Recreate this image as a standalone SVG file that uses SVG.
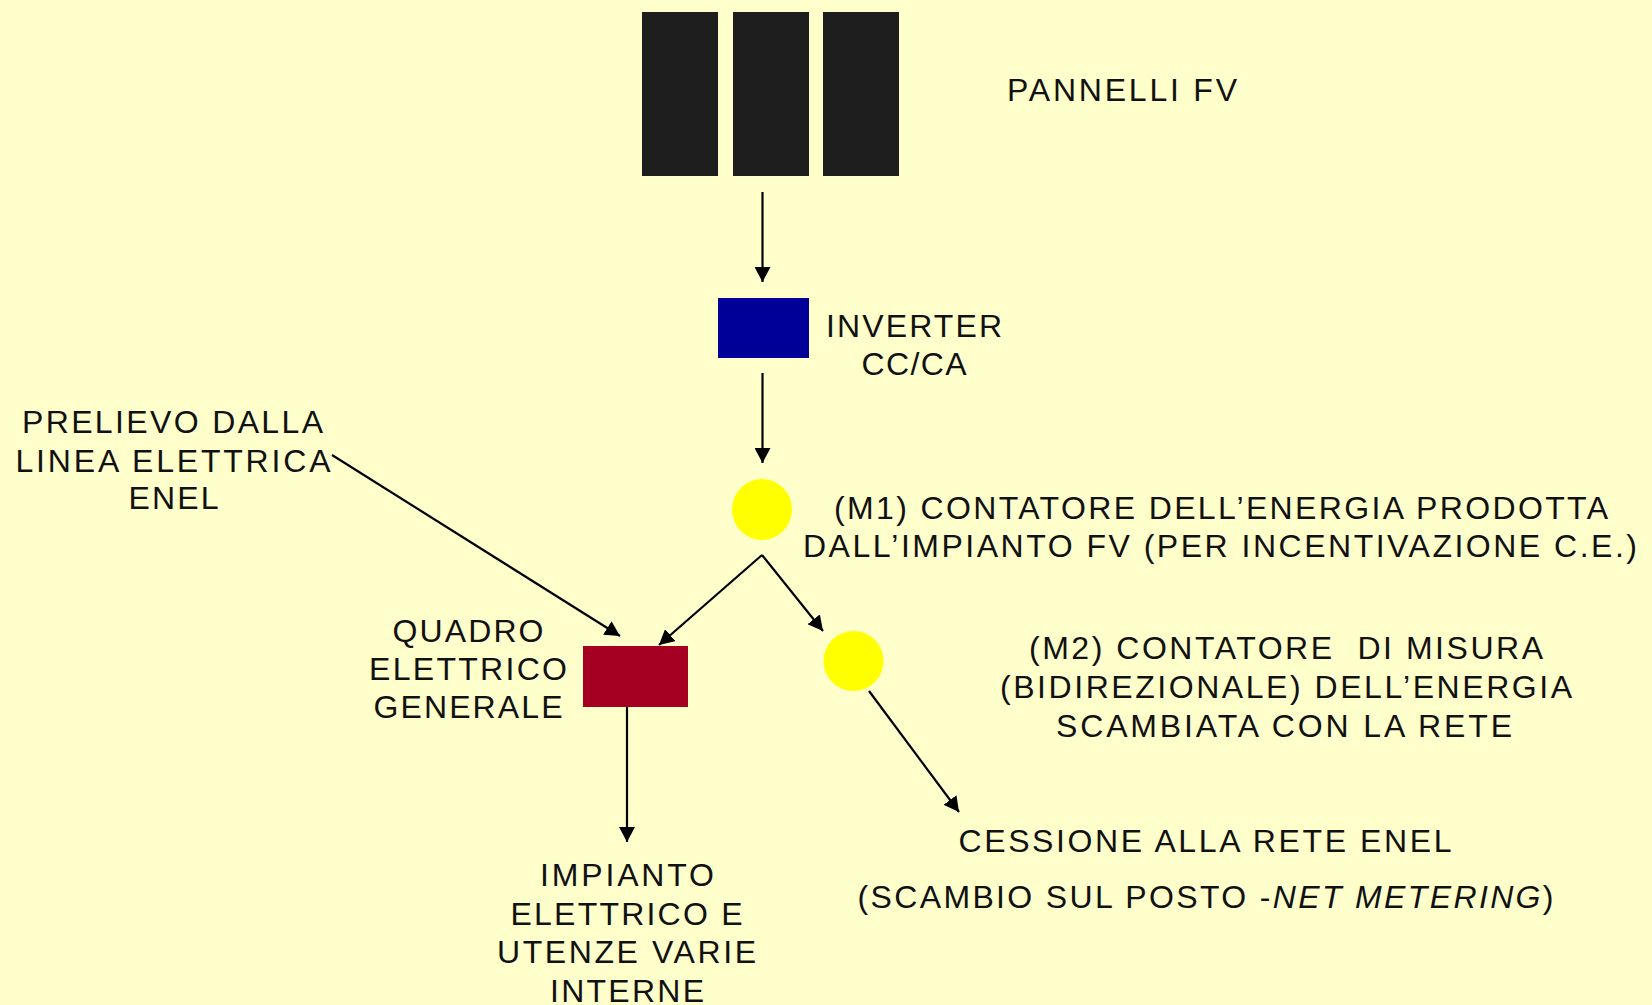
<svg xmlns="http://www.w3.org/2000/svg" width="1652" height="1005" viewBox="0 0 1652 1005">
<style>
.t{font-family:"Liberation Sans",Arial,sans-serif;font-size:32px;fill:#111;text-anchor:middle}
.c{stroke:#000;stroke-width:2.2;fill:none;marker-end:url(#ah)}
.panel{fill:#1e1e1e}
.meter{fill:#ffff00}
</style>
<defs>
<marker id="ah" viewBox="0 0 15 16" refX="15" refY="8" markerWidth="15" markerHeight="16" orient="auto" markerUnits="userSpaceOnUse">
<path d="M0,0 L15,8 L0,16 Z" fill="#000"/>
</marker>
</defs>
<rect width="1652" height="1005" fill="#ffffcc"/>

<g id="pannelli">
<rect class="panel" x="642" y="12" width="76" height="164"/>
<rect class="panel" x="733" y="12" width="76" height="164"/>
<rect class="panel" x="823" y="12" width="76" height="164"/>
<text class="t" x="1122" y="101" textLength="230">PANNELLI FV</text>
</g>

<g id="inverter">
<rect x="718" y="298" width="91" height="60" fill="#000099"/>
<text class="t" x="914" y="337" textLength="176">INVERTER</text>
<text class="t" x="914" y="375" textLength="105">CC/CA</text>
</g>

<g id="m1">
<ellipse class="meter" cx="762" cy="509.5" rx="30" ry="30.5"/>
<text class="t" x="1221" y="519" textLength="774">(M1) CONTATORE DELL’ENERGIA PRODOTTA</text>
<text class="t" x="1220" y="557" textLength="834">DALL’IMPIANTO FV (PER INCENTIVAZIONE C.E.)</text>
</g>

<g id="m2">
<ellipse class="meter" cx="853.5" cy="661" rx="30" ry="30"/>
<text class="t" x="1286" y="659" textLength="514" xml:space="preserve">(M2) CONTATORE  DI MISURA</text>
<text class="t" x="1286" y="698" textLength="572">(BIDIREZIONALE) DELL’ENERGIA</text>
<text class="t" x="1284" y="737" textLength="456">SCAMBIATA CON LA RETE</text>
</g>

<g id="prelievo">
<text class="t" x="172.5" y="433" textLength="301">PRELIEVO DALLA</text>
<text class="t" x="173" y="472" textLength="315">LINEA ELETTRICA</text>
<text class="t" x="173.5" y="509" textLength="90">ENEL</text>
</g>

<g id="quadro">
<rect x="583" y="646" width="105" height="61" fill="#a50021"/>
<text class="t" x="468" y="642" textLength="151">QUADRO</text>
<text class="t" x="468" y="680" textLength="198">ELETTRICO</text>
<text class="t" x="468" y="718" textLength="189">GENERALE</text>
</g>

<g id="impianto">
<text class="t" x="627" y="886" textLength="174">IMPIANTO</text>
<text class="t" x="626.5" y="925" textLength="232">ELETTRICO E</text>
<text class="t" x="626.5" y="963" textLength="259">UTENZE VARIE</text>
<text class="t" x="627" y="1002" textLength="154">INTERNE</text>
</g>

<g id="cessione">
<text class="t" x="1205" y="852" textLength="493">CESSIONE ALLA RETE ENEL</text>
<text class="t" x="1205.5" y="908" textLength="696">(SCAMBIO SUL POSTO -<tspan font-style="italic">NET METERING</tspan>)</text>
</g>

<g id="connectors">
<line class="c" x1="762.5" y1="192" x2="762.5" y2="282"/>
<line class="c" x1="762.5" y1="373" x2="762.5" y2="463"/>
<line class="c" x1="332" y1="455" x2="620" y2="636"/>
<line class="c" x1="762" y1="555" x2="659" y2="645"/>
<line class="c" x1="762" y1="555" x2="823" y2="631"/>
<line class="c" x1="627" y1="707" x2="627" y2="842"/>
<line class="c" x1="869" y1="691" x2="959" y2="812"/>
</g>
</svg>
